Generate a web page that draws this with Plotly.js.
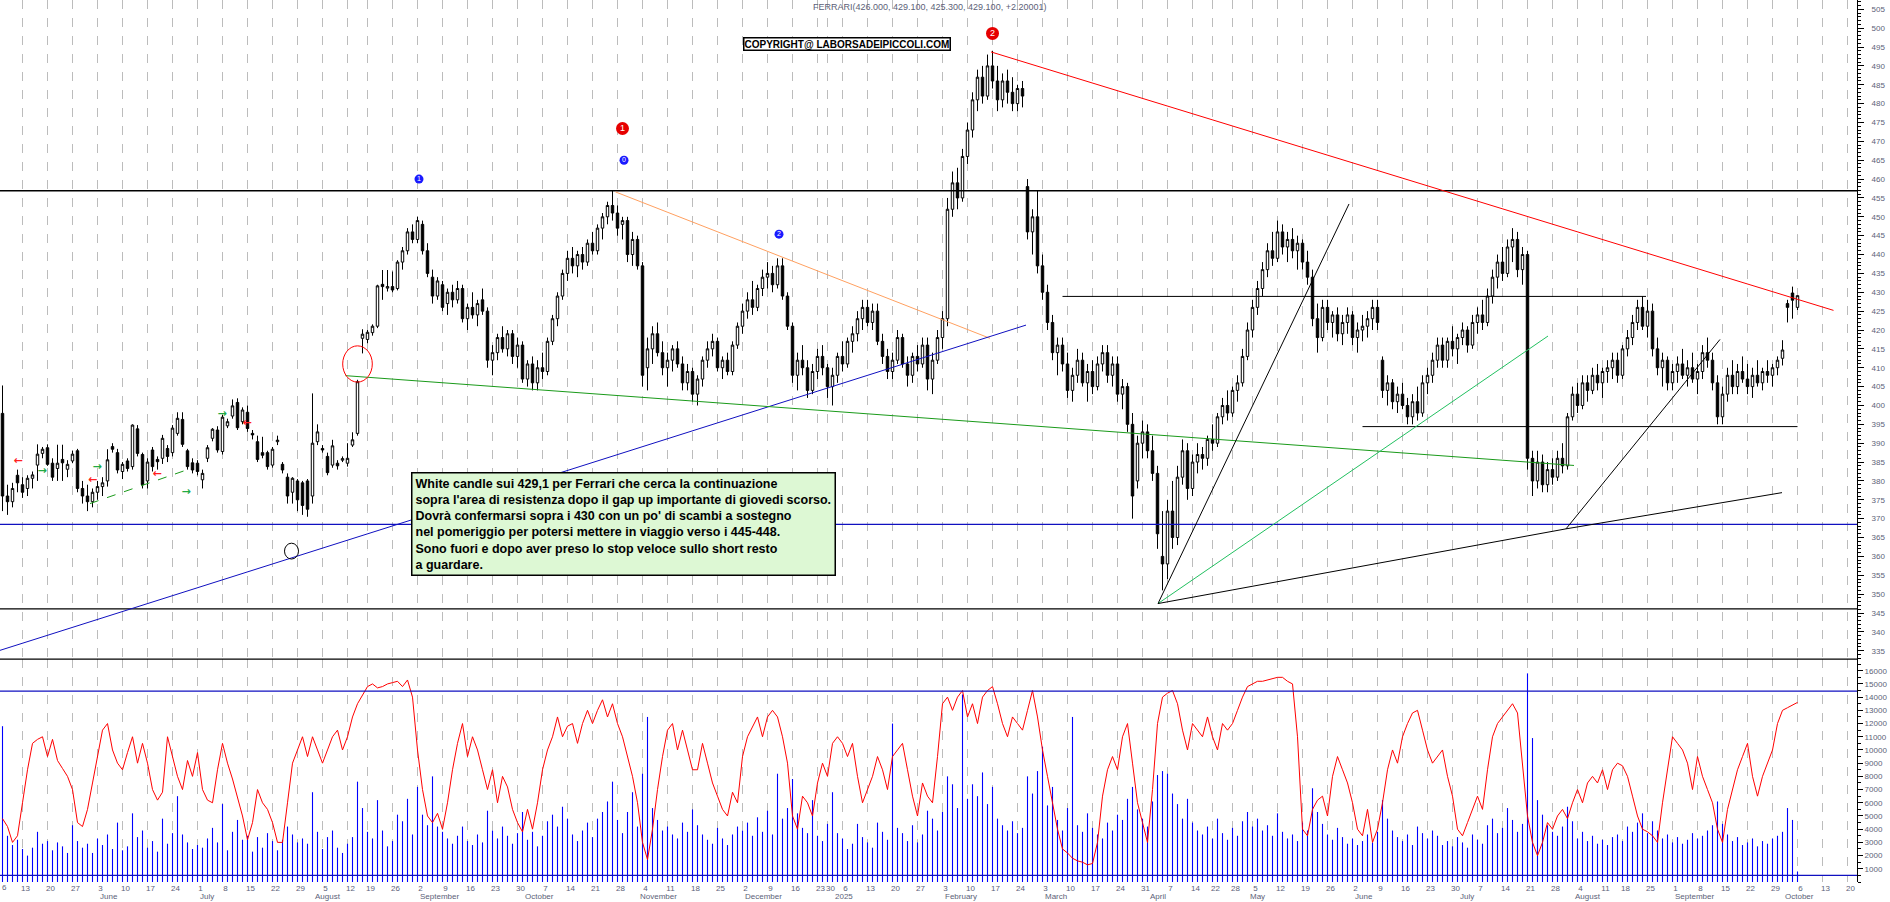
<!DOCTYPE html>
<html><head><meta charset="utf-8">
<script src="https://cdn.plot.ly/plotly-3.0.1.min.js"></script>
<style>html,body{margin:0;padding:0;background:#fff;}#chart{width:1890px;height:902px;}</style>
</head><body><div id="chart"></div>
<script>
// ---------- DATA ----------
const openP = [
397.9,376,374.5,381.5,379,378,380.7,384.2,387.3,388.8,
384.7,383.3,385.7,383.1,385.3,388,378,376,374.5,377,
378.5,380,389.1,387.5,382.5,385.3,383.8,393.8,387,380,
388.2,385.7,386,388.6,387.5,392.6,396.3,388,384.8,384.7,
380.3,386,391.3,393.5,387.8,394.6,397.2,400.8,395.7,398.2,
392.6,390.4,387.5,387.5,384.2,390.4,384.4,381,377,380,
379.5,380,376,390.4,388.6,386.5,384.2,384.7,385.5,384.7,
389.5,392.6,417.8,417.5,419.3,421,432.1,431.1,431.5,431,
438,441,446,444,448,441,434,429,432,427,
430,428,431,423,426,424,428,425,412,414,
418,415,419,413,416,407,411,406,410,409,
417,423,429,435,439,437,440,438,443,441,
447,450,453,451,448,449,440,444,437,410,
415,419,414,410,412,415,411,406,409,403,
407,412,415,417,410,412,409,416,421,425,
428,426,431,434,435,432,437,429,421,408,
412,410,404,409,413,410,405,408,413,411,
417,419,423,426,422,425,417,413,409,412,
418,411,408,413,411,416,407,412,418,423,
452,459,455,466,473,481,487,482,490,486,
481,486,483,480,484,458,446,450,437,430,
422,414,416,411,404,408,412,406,409,405,
411,414,408,411,403,405,395,380,390,393,
388,382,360,358,372,365,381,388,378,385,
387,386,391,390,397,400,398,404,406,413,
420,426,431,436,441,439,446,442,444,441,
443,438,434,423,418,426,422,424,419,422,
424,418,420,421,423,426,412,404,406,401,
403,400,397,401,398,406,408,412,416,412,
417,415,418,420,416,422,424,422,429,434,
438,435,442,444,436,440,386,380,385,379,
383,381,386,384,397,403,400,406,404,408,
406,409,410,412,408,415,418,422,426,421,
425,415,410,412,406,409,411,408,410,407,
409,414,412,406,397,403,408,405,409,407,
405,408,406,409,408,410,412.5,427,429.8,426];
const highP = [
405.3,379,379.5,383,381,381.5,382.5,389.7,389,389.7,
386,389.6,389.6,385.5,388,388.5,380,379,378,380,
381,388.4,390,388.5,385,386,395,394.8,387.5,386,
389,386.5,392.2,389.5,394.8,398.2,398.2,388.5,386,385.5,
383,389.5,394,394.5,397.5,396.5,401.6,401.9,399.5,400,
393.5,392,391.7,388,389,392,385,382,381,380.5,
380,380.5,403.2,395,389.5,387.5,390.9,385.5,386.5,390,
392.9,406.8,420.2,420,421.5,432,435.9,435.9,435.5,438.5,
442,447,448,450,449,443,436,434,433,431,
432,433,432,427,430,428,431,426,416,419,
421,420,420,418,417,412,413,412,414,418,
424,430,436,441,442,441,442,444,446,448,
451,454,457,453,450,450,446,445,438,418,
421,422,417,414,416,417,413,411,410,408,
413,417,419,418,413,414,417,422,427,430,
433,432,436,438,437,439,439,430,422,414,
416,412,411,415,416,411,410,414,417,418,
421,425,428,428,427,427,419,415,414,420,
419,413,414,416,418,418,414,420,425,455,
462,463,468,475,483,489,490,493,494,490,
488,489,487,485,486,460,452,457,440,432,
424,418,418,414,410,415,414,411,412,413,
416,416,413,413,407,406,398,392,396,395,
392,384,372,375,380,384,391,390,387,390,
389,392,395,398,402,404,405,408,415,422,
428,433,438,443,446,449,448,446,447,445,
444,441,436,427,428,428,425,426,424,426,
425,422,424,425,428,428,413,408,407,405,
406,402,403,405,408,410,414,418,418,418,
421,419,422,421,424,426,428,431,436,440,
442,444,447,446,442,441,388,388,387,385,
386,388,390,398,405,406,408,408,410,411,
410,412,414,414,416,420,424,428,429,428,
427,418,414,413,411,413,415,412,414,411,
416,418,414,408,405,410,412,411,413,411,
410,412,410,412,411,413,417.3,428,431.5,429.1];
const lowP = [
372,371,373,377,375.5,376,378,380,386,384,
380,380,380,381,384.7,377,374,372,373,375,
376,378.5,387.5,382,380.5,382.5,383,386.5,378,378,
382.5,383,384.5,385,386.5,392,389,383,382,381.5,
378,385,390.5,387.5,387,394,396.5,393.5,395,393,
391,385,386,383,383.5,389.5,382,374,374,372,
371,370.5,374,389.5,387.5,381.5,383.5,383,385,383.8,
389,392,413.8,416.5,418.5,420.5,428,430.2,430,430.5,
436,440,443,443,440,434,427,428,425,424,
426,427,422,420,423,421,424,410,408,412,
414,413,411,410,406,405,404,404,407,408,
416,421,428,433,435,434,436,437,440,440,
444,448,449,445,444,438,437,436,405,404,
411,413,408,405,409,410,404,404,401,400,
405,410,413,409,407,408,408,415,419,423,
424,425,429,431,430,431,428,420,406,404,
408,402,403,407,408,402,400,406,409,410,
414,417,420,421,420,416,411,407,407,411,
410,405,406,409,410,404,403,411,415,421,
450,452,454,464,471,478,480,481,484,478,
479,480,478,478,479,444,440,435,428,420,
412,408,409,402,401,406,405,401,403,404,
409,406,405,401,399,393,370,378,386,386,
380,362,351,354,362,363,379,375,376,382,
383,384,388,389,395,396,397,401,405,412,
418,424,429,434,437,438,440,438,439,436,
436,432,421,414,417,420,418,417,416,419,
416,414,417,418,420,420,402,400,399,398,
399,395,395,396,397,403,406,410,410,410,
413,411,416,414,415,419,420,421,427,431,
433,434,438,434,432,383,376,378,377,377,
379,380,382,383,396,398,399,401,403,404,
402,406,407,406,407,413,416,420,420,418,
413,408,405,404,404,406,407,405,406,403,
407,410,404,395,395,401,403,403,406,403,
402,405,404,406,405,408,410.6,422,423,425.3];
const closeP = [
376,374.5,378,379.5,377,380.7,381.6,387.1,388.4,384.4,
381,384.7,384.8,384.4,387.1,378,376,374.5,377,378.5,
379.5,385.6,388.4,382.9,384.4,383.3,394.8,387.3,379,385,
383.8,385.1,391.3,386.5,394,396.6,389.7,383.8,382.9,382.5,
382,388.8,393.7,388.2,396.9,395.7,399.9,394.1,398.8,393.9,
392.2,385.7,386.8,383.8,388.4,390.8,382.9,376,380.7,375,
373.5,372.5,390,393,388.2,382.2,389.3,384,385.9,386,
390.9,406.3,418.9,419.4,421,431.7,431.5,431.5,430.6,438,
441,446,444,449,441,435,429,433,426,430,
428,431,423,426,424,427,425,412,414,418,
415,419,413,416,407,411,406,410,409,417,
423,429,435,439,437,440,438,443,441,447,
450,453,451,447,449,440,444,437,408,415,
419,414,410,412,415,411,406,409,403,407,
412,415,417,410,412,409,416,421,425,428,
426,431,434,435,432,437,429,421,408,412,
410,404,409,413,410,405,408,413,411,417,
419,423,426,422,425,417,413,409,412,418,
411,408,413,411,416,407,412,418,423,452,
459,455,466,473,481,487,482,490,486,481,
486,483,480,484,482,446,450,437,430,422,
414,416,411,404,408,412,406,409,405,411,
414,408,411,403,405,395,376,390,393,388,
382,366,358,372,365,381,388,378,385,387,
386,391,390,397,400,398,404,406,413,420,
426,431,436,441,439,446,442,444,441,443,
438,434,423,418,426,422,424,419,422,424,
418,420,421,423,426,422,404,406,401,403,
400,397,401,398,406,408,412,416,412,417,
415,418,420,416,422,424,422,429,434,438,
435,442,444,436,440,386,380,385,379,383,
381,386,384,397,403,400,406,404,408,406,
409,410,412,408,415,418,422,426,421,425,
415,410,412,406,409,411,408,410,407,409,
414,412,406,397,403,408,405,409,407,405,
408,406,409,408,410,412,414.7,426,427.9,429.1];
const volume = [
11800,3500,2800,3200,2500,2000,2600,3800,2900,3100,
2400,3000,2700,2200,4300,3100,2600,2900,2200,3300,
2800,3600,2500,4500,2400,2700,5200,3400,3900,2600,
3100,2300,4800,2900,3700,6500,3600,3000,2500,2800,
2600,3300,4100,3000,5900,2400,3800,4700,3200,3500,
2300,3400,2600,3700,3100,2400,3200,4200,3600,3000,
3300,2900,6800,3800,2500,3400,3900,2600,2200,2900,
3400,7600,5600,3800,3300,6200,3900,2700,3100,5100,
4600,6300,3600,7200,5100,4300,8000,4200,3800,3300,
2900,3500,4200,3100,2800,3600,3000,5400,3900,3300,
4200,3500,2900,3700,5300,3200,3800,2700,3500,4600,
5100,4200,5700,4800,3600,3100,3900,4500,3400,4800,
5300,6100,7600,4700,3700,5300,6800,4200,8200,12500,
5600,4700,3900,4200,3600,3300,4500,3800,5500,4300,
3600,3200,2900,4100,3300,2800,3600,4200,3900,4500,
3500,4900,3800,5400,3600,8200,4800,5600,7800,5200,
4100,3700,6200,3500,3100,4400,6800,3700,3300,2500,
2900,4400,3400,3000,2600,4500,3800,3200,12000,4100,
3700,3100,4300,3000,3600,5400,4800,3900,5300,8000,
7400,5600,14200,6300,7400,6500,8300,5900,7200,4800,
4300,3900,4600,3700,4100,8000,6700,8400,10250,5800,
7200,4700,3900,5600,12500,4300,3800,5200,4100,3600,
3300,4500,3900,5100,4700,6300,7200,5500,4800,4200,
6100,8100,8400,8200,6700,5900,4800,6300,4500,3900,
3600,4200,3300,4800,3700,3200,4100,3500,4600,5300,
4200,4800,3900,4300,3500,5200,3800,3300,3600,3100,
4500,3900,7100,5300,4400,3600,3200,4100,3400,2900,
3300,2800,3100,3600,3000,3800,6200,4800,3900,3400,
3100,3600,2800,4200,3700,3300,3900,3500,2800,3100,
2700,3400,3000,2600,3600,3200,2900,4300,4800,3700,
4100,5600,4700,3800,4400,15800,10900,6200,5100,4300,
3800,3500,4200,5700,4600,3300,3800,3100,3500,2900,
3200,2800,3400,3600,3100,4200,3800,4500,5200,3700,
4600,3900,3300,3600,3000,3400,2900,3200,3700,3300,
3500,3900,4300,6100,4400,3600,3100,3400,2800,3000,
3300,2700,3100,2900,3300,3500,3800,5600,4700,800];
const oscillator = [
4800,4200,3000,3500,6000,8500,10500,10800,11000,9500,
10800,9200,8600,8000,7000,4500,4200,5500,7500,9500,
11500,12000,10000,9000,8500,9800,11000,9000,10500,9000,
7000,6200,6800,11000,9500,8000,7000,9200,8000,9800,
7000,6200,6000,8500,10500,9000,7800,6500,5000,3200,
4500,7000,6000,5500,4500,3000,3000,6000,9000,10000,
11000,9500,11000,10000,9000,10000,11000,11500,10000,11000,
12500,13500,14200,14800,15000,14700,14800,15000,15100,15200,
14800,15300,14000,10000,7000,5000,4500,5200,4000,6000,
8500,10500,12000,9500,11000,10000,8500,7000,8500,6000,
8000,7200,5500,4500,3800,5500,4000,6000,8500,10000,
11000,12500,11000,11800,12000,10500,12000,13000,12000,13000,
13800,12500,13500,12000,11000,9500,8000,6000,3000,1700,
4000,7000,9500,11500,12000,10000,11500,10000,8500,8500,
10500,9000,7500,6500,5500,5000,6800,6000,9500,11000,
11800,12500,11000,12500,13000,12500,11000,9000,5000,4000,
6500,6000,5000,7500,9000,8000,10500,11000,10500,9500,
10500,8000,6000,7000,8000,9500,8500,7000,9500,10000,
10500,8500,6500,5000,7500,6500,6000,9500,13500,14000,
13000,14000,14500,12500,13500,12000,14000,14500,14800,13500,
12000,11000,12500,12000,11500,13000,14500,12500,10000,8000,
6000,4000,2500,2200,1800,1600,1500,1300,1400,3000,
6500,8500,9500,8500,11000,12000,9000,6000,4500,3000,
7000,12000,14000,14300,14500,13500,11500,10000,12000,11500,
11000,12500,11000,10000,12000,11500,12000,13000,14000,14800,
15000,15200,15200,15300,15400,15500,15500,15200,15000,11000,
4000,3500,5500,6200,6500,5000,8000,9500,8500,7500,
6000,4000,3500,5500,3000,4000,6000,8500,10000,9000,
11000,12000,12800,13000,11500,10000,9000,9500,10000,8000,
6500,4000,3500,4500,5500,6500,5500,8500,11000,12000,
12500,13000,13500,12800,9000,5000,3000,2000,3000,4500,
4000,5000,5500,4800,6000,7000,6000,7500,8000,7500,
8500,7000,8500,9000,8800,8000,6500,5000,4000,3800,
3500,3000,6000,8500,11000,10500,10000,9000,7000,9500,
8000,7000,6000,4000,3000,5500,7000,8500,9500,10500,
8000,6500,8000,9000,10000,12000,13000,13200,13400,13600];
// week starts (trading-day index of each Monday) and their labels
const weekIndex = [4,9,14,19,24,29,34,39,44,49,54,59,64,69,73,78,83,88,93,98,103,108,113,118,123,128,133,138,143,148,153,158,163,165,168,173,178,183,188,193,198,203,208,213,218,223,228,233,238,242,246,250,255,260,265,270,275,280,285,290,295,300,305,310,315,320,324,329,334,339,344,349,354,359,364,369];
const weekLabel = ["13","20","27","3","10","17","24","1","8","15","22","29","5","12","19","26","2","9","16","23","30","7","14","21","28","4","11","18","25","2","9","16","23","30","6","13","20","27","3","10","17","24","3","10","17","24","31","7","14","22","28","5","12","19","26","2","9","16","23","30","7","14","21","28","4","11","18","25","1","8","15","22","29","6","13","20"];
const firstWeekLabel = "6";
const monthIndex = [19,39,62,83,104,127,148,166,188,208,229,249,270,291,314,334,356];
const monthLabel = ["June","July","August","September","October","November","December","2025","February","March","April","May","June","July","August","September","October"];
const volTicks = [1000,2000,3000,4000,5000,6000,7000,8000,9000,10000,11000,12000,13000,14000,15000,16000];
// horizontal levels (price)
const levelPrice = [456.9, 368.5, 346.1, 428.9, 394.4];
const levelFrom = [-0.5, -0.5, -0.5, 212, 272];
const levelTo = [371, 371, 371, 328.7, 359];
// trend lines (index, price)
const trendK0 = [197.7, 122.6, -0.5, 68.6, 231.1, 231.1, 231.1, 312.7, 312.7, 17.5];
const trendP0 = [493.7, 456.6, 335.1, 407.9, 347.5, 347.5, 347.5, 367.3, 367.3, 374.0];
const trendK1 = [366.2, 197.5, 204.7, 314.3, 269.3, 309.1, 312.7, 355.9, 343.5, 36.8];
const trendP1 = [425.2, 417.8, 421.3, 384.1, 453.4, 418.4, 367.3, 376.9, 417.5, 382.9];
// volume levels
const volLevels = [14450, 500];
// numbered pivots
const bluePivotK = [83.3, 124.3, 155.3];
const bluePivotP = [460, 465, 445.4];
const bluePivotTxt = ["1", "0", "2"];
const redPivotK = [124, 198];
const redPivotP = [473.4, 498.6];
const redPivotTxt = ["1", "2"];
// signal arrows
const redArrowK = [3.1, 30.9, 48.9, 18];
const redArrowP = [385.3, 381.7, 395.4, 380.3];
const greenArrowK = [7.9, 18.9, 43.9, 36.7];
const greenArrowP = [382.5, 383.6, 397.8, 377];
// circles (center index, center price)
const redCircle = [71, 411];
const blackCircle = [57.8, 361.4];

const title = "FERRARI(426.000, 429.100, 425.300, 429.100, +2.20001)";
const copyright = "COPYRIGHT@ LABORSADEIPICCOLI.COM";
const comment = ["White candle sui 429,1 per Ferrari che cerca la continuazione",
 "sopra l'area di resistenza dopo il gap up importante di giovedi scorso.",
 "Dovrà confermarsi sopra i 430 con un po' di scambi a sostegno",
 "nel pomeriggio per potersi mettere in viaggio verso i 445-448.",
 "Sono fuori e dopo aver preso lo stop veloce sullo short resto",
 "a guardare."];

// ---------- CHART ----------
const idx = closeP.map((_, i) => i);
const FONT = "Liberation Sans, Arial, sans-serif";
const LBL = "#5c5f78";
const PANEL = 0.2528;

const traces = [
 {type:'candlestick', x: idx, open: openP, high: highP, low: lowP, close: closeP,
  xaxis:'x', yaxis:'y', whiskerwidth: 0,
  increasing:{line:{color:'#000', width:1}, fillcolor:'#ffffff'},
  decreasing:{line:{color:'#000', width:1}, fillcolor:'#000000'},
  hoverinfo:'skip', showlegend:false},
 {type:'bar', x: idx, y: volume, xaxis:'x', yaxis:'y2', width:0.22,
  marker:{color:'#0000ff', line:{width:0}}, hoverinfo:'skip', showlegend:false},
 {type:'scatter', mode:'lines', x: idx, y: oscillator, xaxis:'x', yaxis:'y2',
  line:{color:'#ff0000', width:1}, hoverinfo:'skip', showlegend:false},
 {type:'scatter', mode:'markers+text', x: bluePivotK, y: bluePivotP, text: bluePivotTxt,
  marker:{color:'#1a1aff', size:9}, textfont:{color:'#fff', size:7, family:FONT},
  textposition:'middle center', hoverinfo:'skip', showlegend:false},
 {type:'scatter', mode:'markers+text', x: redPivotK, y: redPivotP, text: redPivotTxt,
  marker:{color:'#e60000', size:13}, textfont:{color:'#fff', size:9, family:FONT},
  textposition:'middle center', hoverinfo:'skip', showlegend:false},
 {type:'scatter', mode:'text', x: redArrowK, y: redArrowP, text: redArrowK.map(()=>'<b>←</b>'),
  textfont:{color:'#ff2020', size:11, family:'DejaVu Sans'}, hoverinfo:'skip', showlegend:false},
 {type:'scatter', mode:'text', x: greenArrowK, y: greenArrowP, text: greenArrowK.map(()=>'<b>→</b>'),
  textfont:{color:'#22aa44', size:11, family:'DejaVu Sans'}, hoverinfo:'skip', showlegend:false}
];

const shapes = [];
levelPrice.forEach((p, i) => shapes.push({type:'line', xref:'x', yref:'y', x0: levelFrom[i], x1: levelTo[i], y0:p, y1:p,
  line:{color: i === 1 ? '#1010c0' : '#000', width: i < 3 ? 1.3 : 1}}));
const trendColors = ['#ff0000','#ffa060','#1010c0','#1a9a1a','#000','#22c060','#000','#000','#000','#1a9a1a'];
trendK0.forEach((k, i) => shapes.push({type:'line', xref:'x', yref:'y', x0:k, y0:trendP0[i], x1:trendK1[i], y1:trendP1[i],
  line:{color: trendColors[i], width:1, dash: i === 9 ? 'dash' : 'solid'}}));
volLevels.forEach(v => shapes.push({type:'line', xref:'paper', yref:'y2', x0:0, x1:1, y0:v, y1:v, line:{color:'#1010c0', width:1.2}}));
shapes.push({type:'line', xref:'paper', yref:'paper', x0:0, x1:1, y0:PANEL, y1:PANEL, line:{color:'#000', width:1.3}});
shapes.push({type:'circle', xref:'x', yref:'y', x0: redCircle[0]-2.96, x1: redCircle[0]+2.96, y0: redCircle[1]-4.8, y1: redCircle[1]+4.8,
  line:{color:'#ff0000', width:1}});
shapes.push({type:'circle', xref:'x', yref:'y', x0: blackCircle[0]-1.4, x1: blackCircle[0]+1.4, y0: blackCircle[1]-2.1, y1: blackCircle[1]+2.1,
  line:{color:'#000', width:1}});

const annotations = [
 {xref:'paper', yref:'paper', x:0.4367, y:0.992, xanchor:'left', yanchor:'middle', showarrow:false,
  text: title, font:{family:FONT, size:9, color:LBL}},
 {xref:'paper', yref:'paper', x:0.4001, y:0.950, xanchor:'left', yanchor:'middle', showarrow:false,
  text:'<b>'+copyright+'</b>', font:{family:FONT, size:10, color:'#000'}, bgcolor:'#fff',
  bordercolor:'#000', borderwidth:1.5, borderpad:0},
 {xref:'paper', yref:'paper', x:0.2213, y:0.465, xanchor:'left', yanchor:'top', showarrow:false, align:'left',
  text:'<b>'+comment.join('<br>')+'</b>', font:{family:FONT, size:12.5, color:'#000'}, bgcolor:'#ddf8d4',
  bordercolor:'#000', borderwidth:1.5, borderpad:3},
 {xref:'paper', yref:'paper', x:0, y:-0.0057, xanchor:'left', yanchor:'middle', showarrow:false,
  text: firstWeekLabel, font:{family:FONT, size:8, color:LBL}}
];
monthIndex.forEach((k, i) => annotations.push({xref:'x', yref:'paper', x:k, y:-0.016, xanchor:'left', yanchor:'middle',
  showarrow:false, text: monthLabel[i], font:{family:FONT, size:8, color:LBL}}));

const layout = {
 width:1890, height:902, margin:{l:0, r:33, t:0, b:20},
 paper_bgcolor:'#fff', plot_bgcolor:'#fff', showlegend:false,
 font:{family:FONT, size:8, color:LBL},
 xaxis:{range:[-0.5, 370.9], anchor:'y2', showgrid:true, gridcolor:'#bcbcbc', griddash:'dash', gridwidth:1,
   tickmode:'array', tickvals: weekIndex, ticktext: weekLabel, ticks:'', tickangle:0, ticklabelshift:3,
   tickfont:{size:8, color:LBL}, zeroline:false, showline:false, rangeslider:{visible:false}, fixedrange:true},
 yaxis:{domain:[PANEL, 1], range:[332.8, 507.46], side:'right', anchor:'x', showgrid:false, zeroline:false,
   showline:true, linecolor:'#000', linewidth:1, ticks:'outside', ticklen:6, tickcolor:'#000', tickwidth:1,
   tick0:0, dtick:5, minor:{dtick:1, ticks:'outside', ticklen:3, tickcolor:'#000'},
   tickfont:{size:8, color:LBL}, ticklabelstandoff:6},
 yaxis2:{domain:[0, PANEL], range:[0, 16886], side:'right', anchor:'x', showgrid:false, zeroline:false,
   showline:true, linecolor:'#000', linewidth:1, ticks:'outside', ticklen:5, tickcolor:'#000',
   tickmode:'array', tickvals: volTicks, ticktext: volTicks.map(String),
   minor:{dtick:500, ticks:'outside', ticklen:3, tickcolor:'#000'},
   tickfont:{size:8, color:LBL}},
 shapes: shapes, annotations: annotations
};
Plotly.newPlot('chart', traces, layout, {staticPlot:true, displayModeBar:false});
</script></body></html>
